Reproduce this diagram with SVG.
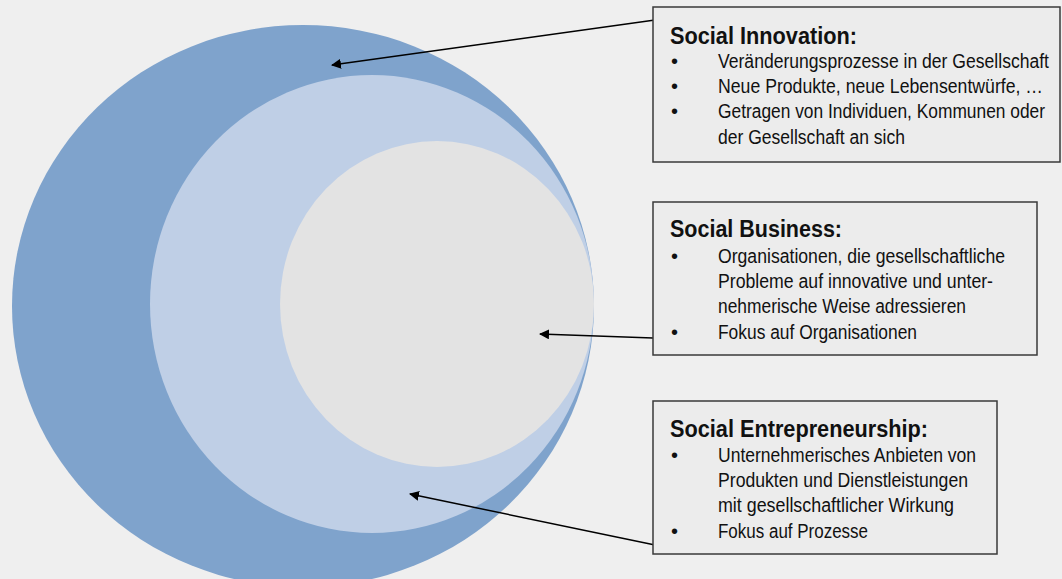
<svg xmlns="http://www.w3.org/2000/svg" width="1062" height="579" viewBox="0 0 1062 579">
<defs>
<style>
.bg{fill:#efefef}
.box{fill:#ececec;stroke:#3a3a3a;stroke-width:1.5}
.t{font-family:"Liberation Sans",Arial,sans-serif;fill:#111}
.h{font-size:23px;font-weight:bold}
.b{font-size:20px}
.con{stroke:#000;stroke-width:1.5;fill:none;marker-end:url(#ah)}
</style>
<marker id="ah" viewBox="0 0 10 10" refX="9" refY="5" markerWidth="10" markerHeight="10" markerUnits="userSpaceOnUse" orient="auto">
<path d="M0,0 L10,5 L0,10 z" fill="#000"/>
</marker>
</defs>
<rect class="bg" x="0" y="0" width="1062" height="579"/>
<g id="circle-innovation"><ellipse cx="303" cy="306" rx="291" ry="281" fill="#7fa3cc"/></g>
<g id="circle-entrepreneurship"><ellipse cx="372" cy="304" rx="222" ry="229" fill="#bfcfe6"/></g>
<g id="circle-business"><ellipse cx="437" cy="304" rx="157" ry="163" fill="#e3e3e3"/></g>
<g id="connectors">
<line class="con" x1="655" y1="20" x2="332" y2="65"/>
<line class="con" x1="653" y1="338" x2="540" y2="334"/>
<line class="con" x1="655" y1="545" x2="410" y2="494"/>
</g>
<g id="box-innovation">
<rect class="box" x="653" y="7" width="407" height="155"/>
<text class="t h" x="670" y="44" textLength="187" lengthAdjust="spacingAndGlyphs">Social Innovation:</text>
<text class="t b" x="671" y="68">•</text><text class="t b" x="718" y="68" textLength="331" lengthAdjust="spacingAndGlyphs">Veränderungsprozesse in der Gesellschaft</text>
<text class="t b" x="671" y="93">•</text><text class="t b" x="718" y="93" textLength="325" lengthAdjust="spacingAndGlyphs">Neue Produkte, neue Lebensentwürfe, …</text>
<text class="t b" x="671" y="118">•</text><text class="t b" x="718" y="118" textLength="327" lengthAdjust="spacingAndGlyphs">Getragen von Individuen, Kommunen oder</text>
<text class="t b" x="718" y="144" textLength="187" lengthAdjust="spacingAndGlyphs">der Gesellschaft an sich</text>
</g>
<g id="box-business">
<rect class="box" x="653" y="202" width="384" height="153"/>
<text class="t h" x="670" y="237" textLength="172" lengthAdjust="spacingAndGlyphs">Social Business:</text>
<text class="t b" x="671" y="263">•</text><text class="t b" x="718" y="263" textLength="287" lengthAdjust="spacingAndGlyphs">Organisationen, die gesellschaftliche</text>
<text class="t b" x="718" y="288" textLength="275" lengthAdjust="spacingAndGlyphs">Probleme auf innovative und unter-</text>
<text class="t b" x="718" y="313" textLength="248" lengthAdjust="spacingAndGlyphs">nehmerische Weise adressieren</text>
<text class="t b" x="671" y="339">•</text><text class="t b" x="718" y="339" textLength="199" lengthAdjust="spacingAndGlyphs">Fokus auf Organisationen</text>
</g>
<g id="box-entrepreneurship">
<rect class="box" x="653" y="401" width="344" height="153"/>
<text class="t h" x="670" y="437" textLength="258" lengthAdjust="spacingAndGlyphs">Social Entrepreneurship:</text>
<text class="t b" x="671" y="462">•</text><text class="t b" x="718" y="462" textLength="258" lengthAdjust="spacingAndGlyphs">Unternehmerisches Anbieten von</text>
<text class="t b" x="718" y="487" textLength="250" lengthAdjust="spacingAndGlyphs">Produkten und Dienstleistungen</text>
<text class="t b" x="718" y="512" textLength="236" lengthAdjust="spacingAndGlyphs">mit gesellschaftlicher Wirkung</text>
<text class="t b" x="671" y="538">•</text><text class="t b" x="718" y="538" textLength="150" lengthAdjust="spacingAndGlyphs">Fokus auf Prozesse</text>
</g>
</svg>
